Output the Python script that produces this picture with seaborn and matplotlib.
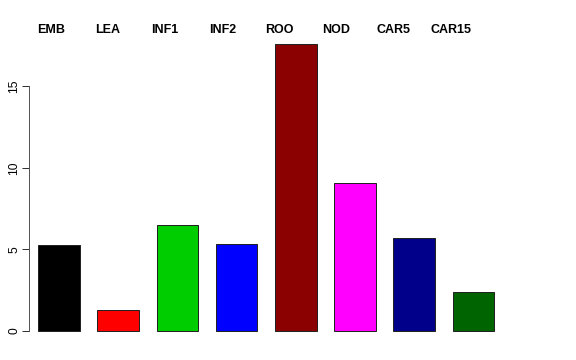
import matplotlib
matplotlib.use("Agg")
import matplotlib.pyplot as plt
import seaborn as sns
import pandas as pd

categories = ["EMB", "LEA", "INF1", "INF2", "ROO", "NOD", "CAR5", "CAR15"]
values = [5.26, 1.29, 6.49, 5.36, 17.6, 9.06, 5.71, 2.39]
colors = ["#000000", "#FF0000", "#00CD00", "#0000FF", "#8B0000", "#FF00FF", "#00008B", "#006400"]
yticks = [0, 5, 10, 15]

sns.set_style("white")
plt.rcParams["font.family"] = ["Liberation Sans", "DejaVu Sans"]
plt.rcParams["text.color"] = "black"
plt.rcParams["ytick.color"] = "black"

df = pd.DataFrame({"cat": categories, "val": values})

W, H = 576, 360
fig = plt.figure(figsize=(W / 72, H / 72), dpi=72)
left_px, right_px = 29, 503.4
top_px, bot_px = 31.8, 343.0
ax = fig.add_axes([left_px / W, 1 - bot_px / H, (right_px - left_px) / W, (bot_px - top_px) / H])

sns.barplot(data=df, x="cat", y="val", hue="cat", palette=dict(zip(categories, colors)),
            width=0.7, edgecolor="#222222", linewidth=1.0, legend=False, ax=ax, saturation=1)

ax.set_xlim(-0.507, 7.507)
ax.set_ylim(-0.73, 18.33)
ax.set_xlabel("")
ax.set_ylabel("")
ax.set_xticks([])
ax.set_yticks(yticks)
ax.set_yticklabels([str(t) for t in yticks], rotation=90, va="center", fontsize=12, color="black")
for s in ["top", "right", "bottom"]:
    ax.spines[s].set_visible(False)
ax.spines["left"].set_bounds(0, 15)
ax.spines["left"].set_color("#555555")
ax.spines["left"].set_linewidth(1.0)
ax.tick_params(axis="y", length=7, width=1.0, color="#333333", pad=2, left=True)
ax.grid(False)

for i, c in enumerate(categories):
    xc = 51 + 57.1 * i
    fig.text(xc / W, 1 - 30 / H, c, ha="center", va="center", fontsize=12.5,
             fontweight="bold", color="black")

fig.savefig("out.png", dpi=72)
